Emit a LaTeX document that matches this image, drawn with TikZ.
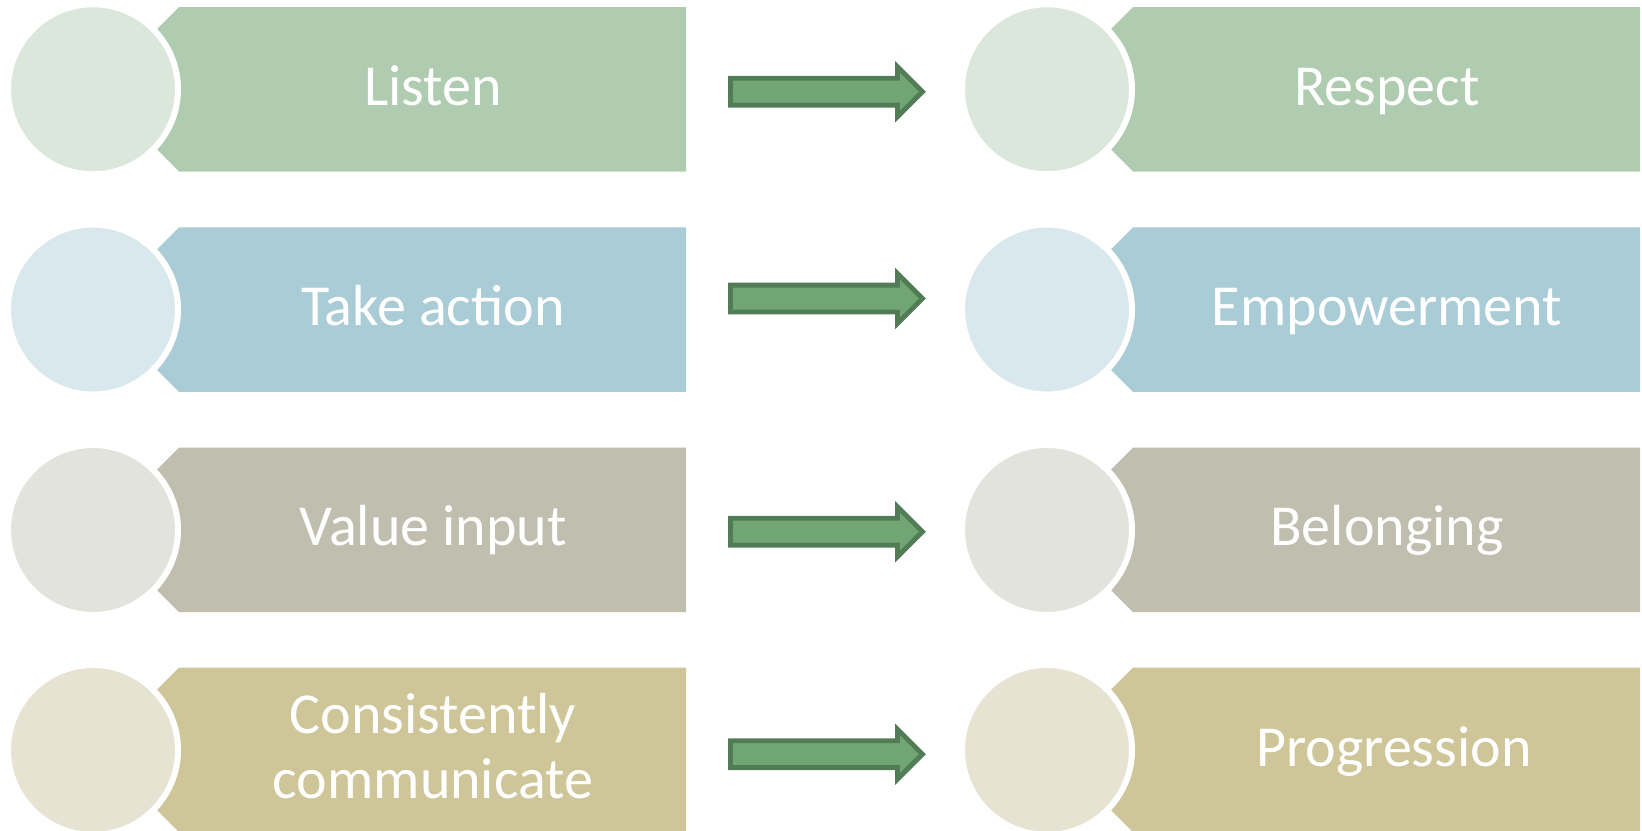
\documentclass[tikz,border=0pt]{standalone}
\usepackage{fontspec}
\setmainfont{Carlito}
\usetikzlibrary{shapes.arrows}

\definecolor{greenbox}{HTML}{B0CCB0}
\definecolor{greendot}{HTML}{DCE7DC}
\definecolor{bluebox}{HTML}{A9CCD6}
\definecolor{bluedot}{HTML}{D9E8ED}
\definecolor{greybox}{HTML}{C0BFAF}
\definecolor{greydot}{HTML}{E2E3DC}
\definecolor{khakibox}{HTML}{CEC699}
\definecolor{khakidot}{HTML}{E6E3D2}
\definecolor{arrowfill}{HTML}{71A574}
\definecolor{arrowline}{HTML}{527C56}

\begin{document}
\begin{tikzpicture}[x = 0.5pt, y = -0.5pt,
	dot/.style = {circle, draw = white, line width = 3pt, minimum size = 85pt, inner sep = 0pt},
	word/.style = {text = white, anchor = base, align = center, font = \fontsize{29pt}{32.5pt}\selectfont},
	blockarrow/.style = {single arrow, draw = arrowline, fill = arrowfill, line width = 2.4pt,
		inner sep = 0pt, text height = 11pt, text depth = 0pt, anchor = tail,
		single arrow head extend = 5.8pt, minimum height = 96pt}]
	\useasboundingbox (0,0) rectangle (1642,830);

	% left column
	\fill[greenbox] (157,29) -- ++(22,-22) -- ++(507,0) -- ++(0,164.5) -- ++(-507,0) -- ++(-22,-22) -- cycle;
	\fill[bluebox] (157,249.3) -- ++(22,-22) -- ++(507,0) -- ++(0,164.5) -- ++(-507,0) -- ++(-22,-22) -- cycle;
	\fill[greybox] (157,469.7) -- ++(22,-22) -- ++(507,0) -- ++(0,164.5) -- ++(-507,0) -- ++(-22,-22) -- cycle;
	\fill[khakibox] (157,689.7) -- ++(22,-22) -- ++(507,0) -- ++(0,164.5) -- ++(-507,0) -- ++(-22,-22) -- cycle;

	\node[dot, fill = greendot](ldot1) at (93,89.25) {};
	\node[dot, fill = bluedot](ldot2) at (93,309.55) {};
	\node[dot, fill = greydot](ldot3) at (93,529.95) {};
	\node[dot, fill = khakidot](ldot4) at (93,749.95) {};

	\node[word](listen) at (433,105) {Listen};
	\node[word](action) at (433,325.3) {Take action};
	\node[word](input) at (433,545.7) {Value input};
	\node[word](communicate) at (433,798) {Consistently\\communicate};

	% right column
	\fill[greenbox] (1111,29) -- ++(22,-22) -- ++(507,0) -- ++(0,164.5) -- ++(-507,0) -- ++(-22,-22) -- cycle;
	\fill[bluebox] (1111,249.3) -- ++(22,-22) -- ++(507,0) -- ++(0,164.5) -- ++(-507,0) -- ++(-22,-22) -- cycle;
	\fill[greybox] (1111,469.7) -- ++(22,-22) -- ++(507,0) -- ++(0,164.5) -- ++(-507,0) -- ++(-22,-22) -- cycle;
	\fill[khakibox] (1111,689.7) -- ++(22,-22) -- ++(507,0) -- ++(0,164.5) -- ++(-507,0) -- ++(-22,-22) -- cycle;

	\node[dot, fill = greendot](rdot1) at (1047,89.25) {};
	\node[dot, fill = bluedot](rdot2) at (1047,309.55) {};
	\node[dot, fill = greydot](rdot3) at (1047,529.95) {};
	\node[dot, fill = khakidot](rdot4) at (1047,749.95) {};

	\node[word](respect) at (1387,105) {Respect};
	\node[word](empower) at (1387,325.3) {Empowerment};
	\node[word](belong) at (1387,545.7) {Belonging};
	\node[word](progress) at (1394,766) {Progression};

	% arrows
	\node[blockarrow](arrow1) at (728,91.7) {};
	\node[blockarrow](arrow2) at (728,298.5) {};
	\node[blockarrow](arrow3) at (728,531.7) {};
	\node[blockarrow](arrow4) at (728,754.2) {};
\end{tikzpicture}
\end{document}
